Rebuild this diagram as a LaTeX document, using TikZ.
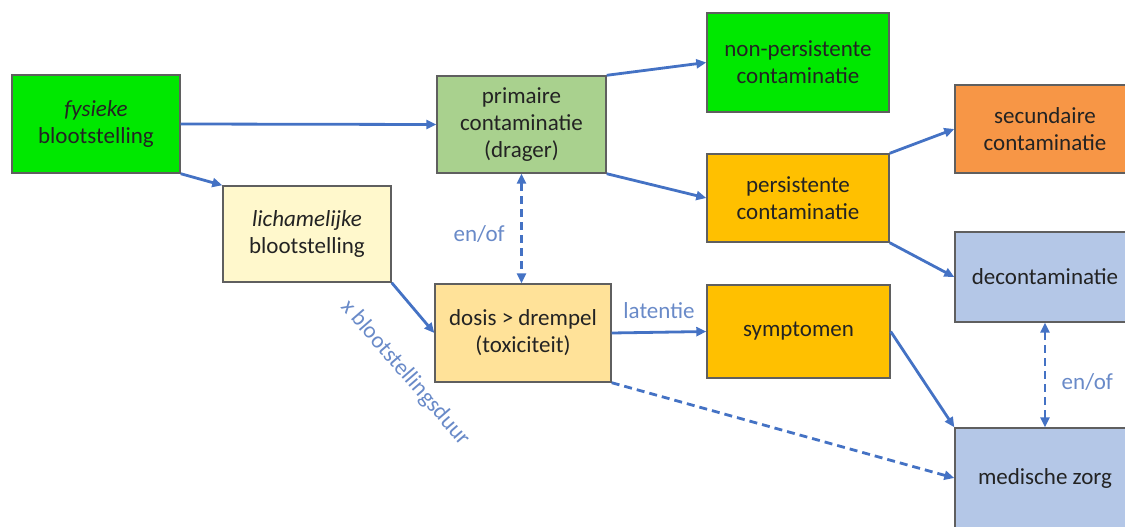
\documentclass[tikz,border=0pt]{standalone}
\usepackage{fontspec}
\setmainfont{Carlito}
\usetikzlibrary{arrows.meta}

\definecolor{fysgreen}{RGB}{0,232,0}
\definecolor{primgreen}{RGB}{169,209,142}
\definecolor{lichyellow}{RGB}{255,248,204}
\definecolor{dosisyellow}{RGB}{255,226,153}
\definecolor{gold}{RGB}{255,192,0}
\definecolor{secorange}{RGB}{247,150,70}
\definecolor{zorgblue}{RGB}{180,199,231}
\definecolor{boxgray}{RGB}{95,95,95}
\definecolor{textgray}{RGB}{35,35,35}
\definecolor{arrowblue}{RGB}{68,114,196}
\definecolor{labelblue}{RGB}{105,138,200}

\begin{document}
\begin{tikzpicture}[x=1pt,y=-1pt,
  font=\fontsize{23}{27}\selectfont,
  >={Triangle[length=10pt,width=9pt]},
  box/.style={draw=boxgray, line width=1.4pt, align=center, inner sep=0pt, text=textgray},
  flow/.style={draw=arrowblue, line width=2.8pt, ->},
  maybe/.style={flow, dash pattern=on 8pt off 5pt},
  note/.style={text=labelblue}]
\clip (0,0) rectangle (1125,527);

% left column
\node[box, fill=fysgreen, minimum width=168pt, minimum height=98pt] (fys) at (96,124) {\textit{fysieke}\\blootstelling};
\node[box, fill=lichyellow, minimum width=168pt, minimum height=96pt] (lich) at (307,234) {\textit{lichamelijke}\\blootstelling};

% middle
\node[box, fill=primgreen, minimum width=169pt, minimum height=97pt] (prim) at (521.5,124.5) {primaire\\contaminatie\\(drager)};
\node[box, fill=dosisyellow, minimum width=176pt, minimum height=98pt] (dosis) at (523,333) {dosis > drempel\\(toxiciteit)};

\node[box, fill=fysgreen, minimum width=182pt, minimum height=99pt] (nonp) at (798,62.5) {non-persistente\\contaminatie};
\node[box, fill=gold, minimum width=182pt, minimum height=88pt] (pers) at (798,198) {persistente\\contaminatie};
\node[box, fill=gold, minimum width=183pt, minimum height=93pt] (sym) at (798.5,331.5) {symptomen};

% right column, cut off by the page
\node[box, fill=secorange, minimum width=180pt, minimum height=88pt] (sec) at (1045,129) {secundaire\\contaminatie};
\node[box, fill=zorgblue, minimum width=180pt, minimum height=90pt] (deco) at (1045,277) {decontaminatie};
\node[box, fill=zorgblue, minimum width=180pt, minimum height=100pt] (med) at (1045,478) {medische zorg};

\foreach \a/\b in {fys.east/prim.west, fys.south east/lich.north west,
    lich.south east/dosis.west, prim.north east/nonp.west,
    prim.south east/pers.west, pers.north east/sec.west,
    pers.south east/deco.west, sym.east/med.north west}
  \draw[flow] (\a) -- (\b);

\draw[flow] (dosis.east) -- node[note, above=9pt] (lat) {latentie} (sym.west);
\draw[maybe] (dosis.south east) -- (med.west);

\draw[maybe, <->] (prim.south) -- node[note, left=12pt, pos=0.55] (enof1) {en/of} (prim.south |- dosis.north);
\draw[maybe, <->] (deco.south) -- node[note, right=12pt, pos=0.57] (enof2) {en/of} (med.north);

\node[note, rotate=-49] (duur) at (405,373) {x blootstellingsduur};
\end{tikzpicture}
\end{document}
